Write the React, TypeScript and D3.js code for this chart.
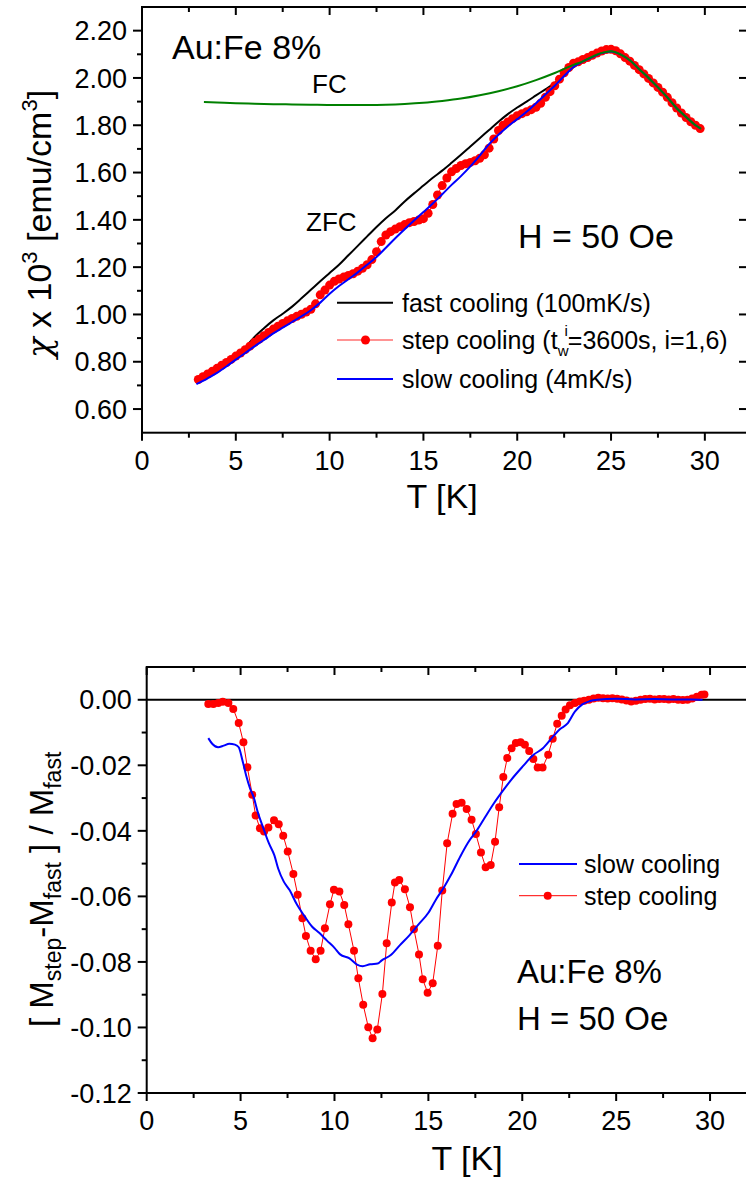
import React from "react";
import * as d3 from "d3";

const FONT = "'Liberation Sans', Arial, Helvetica, sans-serif";

// ---- top panel: chi x 10^3 vs T ----
const fastT = [2.9, 3.5, 4, 4.5, 5, 5.4, 5.6, 6, 6.5, 7, 7.5, 8, 8.5, 9, 9.5, 10, 10.5, 11, 11.5, 12, 12.5, 13, 13.5, 14, 14.5, 15, 15.5, 16, 16.5, 17, 17.5, 18, 18.5, 19, 19.5, 20, 20.5, 21, 21.5, 22, 22.5, 23, 23.5, 24, 24.5, 25, 25.5, 26, 26.5, 27, 27.5, 28, 28.5, 29, 29.5, 29.75];
const fastChi = [0.712, 0.735, 0.758, 0.785, 0.815, 0.845, 0.868, 0.905, 0.942, 0.975, 1.003, 1.033, 1.068, 1.104, 1.14, 1.175, 1.21, 1.25, 1.29, 1.33, 1.37, 1.407, 1.44, 1.478, 1.512, 1.545, 1.578, 1.608, 1.641, 1.675, 1.71, 1.745, 1.78, 1.815, 1.847, 1.875, 1.9, 1.926, 1.952, 1.978, 2.012, 2.046, 2.07, 2.09, 2.106, 2.113, 2.1, 2.075, 2.037, 2.0, 1.96, 1.918, 1.872, 1.835, 1.8, 1.787];

const slowT = [2.9, 3.5, 4, 4.5, 5, 5.5, 6, 6.5, 7, 7.5, 8, 8.5, 9, 9.5, 10, 10.5, 11, 11.5, 12, 12.5, 13, 13.5, 14, 14.5, 15, 15.5, 16, 16.5, 17, 17.5, 18, 18.5, 19, 19.5, 20, 20.5, 21, 21.5, 22, 22.5, 23, 23.5, 24, 24.5, 25, 25.5, 26, 26.5, 27, 27.5, 28, 28.5, 29, 29.5, 29.75];
const slowChi = [0.705, 0.73, 0.753, 0.78, 0.809, 0.837, 0.865, 0.892, 0.92, 0.944, 0.968, 0.992, 1.018, 1.05, 1.087, 1.12, 1.149, 1.178, 1.21, 1.243, 1.282, 1.322, 1.36, 1.397, 1.433, 1.469, 1.508, 1.548, 1.585, 1.626, 1.672, 1.72, 1.76, 1.795, 1.826, 1.857, 1.893, 1.93, 1.967, 2.008, 2.046, 2.07, 2.088, 2.105, 2.112, 2.1, 2.075, 2.037, 2.0, 1.96, 1.918, 1.872, 1.835, 1.8, 1.787];

const fcT = [3.3, 4, 5, 6, 7, 8, 9, 10, 11, 12, 13, 14, 15, 16, 17, 18, 19, 20, 21, 22, 23, 23.5, 24, 24.5, 25, 25.5, 26, 26.5, 27, 27.5, 28, 28.5, 29, 29.5, 29.8];
const fcChi = [1.898, 1.896, 1.893, 1.891, 1.889, 1.888, 1.887, 1.886, 1.886, 1.886, 1.887, 1.89, 1.895, 1.903, 1.913, 1.927, 1.944, 1.965, 1.991, 2.021, 2.055, 2.07, 2.09, 2.106, 2.113, 2.1, 2.075, 2.037, 2.0, 1.96, 1.918, 1.872, 1.835, 1.8, 1.785];

const stepT = [3, 3.25, 3.5, 3.75, 4, 4.25, 4.5, 4.75, 5, 5.25, 5.5, 5.75, 6, 6.25, 6.5, 6.75, 7, 7.25, 7.5, 7.75, 8, 8.25, 8.5, 8.75, 9, 9.25, 9.5, 9.75, 10, 10.25, 10.5, 10.75, 11, 11.25, 11.5, 11.75, 12, 12.25, 12.5, 12.75, 13, 13.25, 13.5, 13.75, 14, 14.25, 14.5, 14.75, 15, 15.25, 15.5, 15.75, 16, 16.25, 16.5, 16.75, 17, 17.25, 17.5, 17.75, 18, 18.25, 18.5, 18.75, 19, 19.25, 19.5, 19.75, 20, 20.25, 20.5, 20.75, 21, 21.25, 21.5, 21.75, 22, 22.25, 22.5, 22.75, 23, 23.25, 23.5, 23.75, 24, 24.25, 24.5, 24.75, 25, 25.25, 25.5, 25.75, 26, 26.25, 26.5, 26.75, 27, 27.25, 27.5, 27.75, 28, 28.25, 28.5, 28.75, 29, 29.25, 29.5, 29.75];
const stepChi = [0.725, 0.737, 0.748, 0.76, 0.772, 0.785, 0.797, 0.81, 0.824, 0.837, 0.851, 0.866, 0.882, 0.896, 0.91, 0.924, 0.938, 0.95, 0.962, 0.973, 0.983, 0.992, 1.001, 1.01, 1.022, 1.045, 1.083, 1.103, 1.124, 1.14, 1.15, 1.158, 1.165, 1.172, 1.183, 1.195, 1.21, 1.232, 1.265, 1.308, 1.336, 1.35, 1.361, 1.371, 1.38, 1.388, 1.393, 1.399, 1.405, 1.428, 1.465, 1.505, 1.545, 1.577, 1.603, 1.617, 1.63, 1.637, 1.643, 1.65, 1.66, 1.675, 1.703, 1.742, 1.778, 1.8, 1.814, 1.828, 1.84, 1.849, 1.857, 1.866, 1.876, 1.893, 1.918, 1.942, 1.967, 1.995, 2.022, 2.044, 2.062, 2.068, 2.078, 2.086, 2.096, 2.105, 2.114, 2.12, 2.121, 2.115, 2.102, 2.086, 2.071, 2.053, 2.035, 2.017, 1.998, 1.979, 1.96, 1.94, 1.918, 1.895, 1.873, 1.852, 1.833, 1.815, 1.8, 1.786];

// ---- bottom panel: (M_step - M_fast)/M_fast ----
const slowDiffT = [3.28, 3.5, 3.8, 4.1, 4.4, 4.7, 4.9, 5.1, 5.3, 5.5, 5.7, 5.9, 6.2, 6.5, 6.8, 7, 7.3, 7.6, 8, 8.4, 8.8, 9.2, 9.6, 10, 10.3, 10.8, 11.2, 11.5, 11.9, 12.3, 12.5, 13, 13.5, 14, 14.5, 15, 15.4, 15.8, 16.2, 16.7, 17.1, 17.6, 18, 18.5, 19, 19.4, 20, 20.6, 21.1, 21.6, 22, 22.4, 22.8, 23.2, 23.6, 24, 25, 26, 27, 28, 29, 29.6];
const slowDiff = [-0.0117, -0.0135, -0.0145, -0.014, -0.0134, -0.0137, -0.0145, -0.0185, -0.0232, -0.027, -0.0298, -0.034, -0.039, -0.0437, -0.0475, -0.0515, -0.0555, -0.058, -0.0625, -0.066, -0.0692, -0.0712, -0.0735, -0.0757, -0.0777, -0.0789, -0.0808, -0.0813, -0.0807, -0.0805, -0.0796, -0.0779, -0.0748, -0.0718, -0.0684, -0.065, -0.061, -0.0575, -0.0535, -0.0478, -0.0437, -0.0397, -0.036, -0.0315, -0.0275, -0.0245, -0.0205, -0.0168, -0.0148, -0.0115, -0.009, -0.0073, -0.0036, -0.0014, -0.0004, 0, 0.0003, 0.0001, 0.0002, 0.0001, 0.0001, 0];

const stepDiffT = [3.28, 3.55, 3.81, 4.05, 4.35, 4.61, 4.9, 5.15, 5.36, 5.62, 5.8, 6.03, 6.25, 6.48, 6.78, 7.03, 7.27, 7.51, 7.81, 8.04, 8.29, 8.48, 8.73, 9, 9.26, 9.49, 9.76, 9.97, 10.26, 10.52, 10.74, 11.04, 11.27, 11.53, 11.8, 12.03, 12.28, 12.55, 12.78, 13.05, 13.22, 13.45, 13.75, 14.02, 14.23, 14.5, 14.7, 14.96, 15.23, 15.5, 15.74, 16, 16.29, 16.5, 16.77, 17.04, 17.3, 17.53, 17.8, 18.05, 18.32, 18.55, 18.77, 18.99, 19.2, 19.43, 19.66, 19.91, 20.14, 20.37, 20.59, 20.82, 21.08, 21.38, 21.62, 21.86, 22.1, 22.31, 22.54, 22.8, 23.07, 23.3, 23.55, 23.8, 24.05, 24.3, 24.55, 24.8, 25.05, 25.3, 25.55, 25.8, 26.05, 26.3, 26.55, 26.8, 27.05, 27.3, 27.55, 27.8, 28.05, 28.3, 28.55, 28.8, 29.05, 29.3, 29.55, 29.7];
const stepDiff = [-0.0013, -0.0013, -0.001, -0.0006, -0.001, -0.0028, -0.0071, -0.013, -0.0206, -0.029, -0.0353, -0.0392, -0.0402, -0.039, -0.0368, -0.038, -0.0415, -0.0463, -0.0532, -0.0595, -0.0667, -0.0721, -0.0766, -0.0792, -0.0766, -0.0697, -0.0624, -0.058, -0.0585, -0.0626, -0.0685, -0.0766, -0.085, -0.0931, -0.0999, -0.1033, -0.1006, -0.0898, -0.0743, -0.0619, -0.0558, -0.055, -0.0578, -0.0633, -0.07, -0.0777, -0.0853, -0.0894, -0.0865, -0.0751, -0.0582, -0.0438, -0.0348, -0.0318, -0.0314, -0.0333, -0.0366, -0.041, -0.0466, -0.0511, -0.0504, -0.0433, -0.0328, -0.0236, -0.0178, -0.0148, -0.0132, -0.013, -0.0137, -0.0156, -0.0181, -0.0207, -0.0207, -0.0168, -0.0119, -0.0073, -0.0049, -0.003, -0.0017, -0.001, -0.0005, -0.0003, 0, 0.0004, 0.0006, 0.0005, 0.0004, 0.0005, 0.0003, 0.0001, -0.0002, -0.0005, -0.0003, 0, 0.0002, 0.0003, 0.0001, 0.0002, 0.0002, 0.0001, 0.0002, 0, -0.0001, 0, 0.0004, 0.0009, 0.0015, 0.0016];

// ticks
const tMajor = [0, 5, 10, 15, 20, 25, 30];
const tMinor = [2.5, 7.5, 12.5, 17.5, 22.5, 27.5];
const chiMajor = [0.6, 0.8, 1.0, 1.2, 1.4, 1.6, 1.8, 2.0, 2.2];
const chiMinor = [0.7, 0.9, 1.1, 1.3, 1.5, 1.7, 1.9, 2.1];
const diffMajor = [0, -0.02, -0.04, -0.06, -0.08, -0.1, -0.12];
const diffMinor = [-0.01, -0.03, -0.05, -0.07, -0.09, -0.11];

const RED = "#ff0000";
const BLUE = "#0000ff";
const GREEN = "#008000";

const zip = (a: number[], b: number[]) => a.map((v, i) => [v, b[i]] as [number, number]);

function Axes({ x, y, xMajor, xMinor, yMajor, yMinor, fmt }: any) {
  const [x0, x1] = x.range();
  const [y0, y1] = y.range();
  const s = { stroke: "#000", strokeWidth: 2 };
  return (
    <g fontFamily={FONT} fill="#000">
      <rect x={x0} y={y1} width={x1 - x0} height={y0 - y1} fill="none" {...s} />
      {xMajor.map((t: number) => (
        <g key={"xM" + t}>
          <line x1={x(t)} x2={x(t)} y1={y0} y2={y0 + 8} {...s} />
          <line x1={x(t)} x2={x(t)} y1={y1} y2={y1 + 8} {...s} />
          <text x={x(t)} y={y0 + 37} textAnchor="middle" fontSize={27}>{t}</text>
        </g>
      ))}
      {xMinor.map((t: number) => (
        <g key={"xm" + t}>
          <line x1={x(t)} x2={x(t)} y1={y0} y2={y0 + 5} {...s} />
          <line x1={x(t)} x2={x(t)} y1={y1} y2={y1 + 5} {...s} />
        </g>
      ))}
      {yMajor.map((v: number) => (
        <g key={"yM" + v}>
          <line x1={x0 - 9} x2={x0} y1={y(v)} y2={y(v)} {...s} />
          <line x1={x1 - 9} x2={x1} y1={y(v)} y2={y(v)} {...s} />
          <text x={x0 - 15} y={y(v)} dy="0.36em" textAnchor="end" fontSize={27}>{fmt(v)}</text>
        </g>
      ))}
      {yMinor.map((v: number) => (
        <line key={"ym" + v} x1={x0 - 5} x2={x0} y1={y(v)} y2={y(v)} {...s} />
      ))}
    </g>
  );
}

export default function App() {
  const xTop = d3.scaleLinear().domain([0, 32.3]).range([142, 748]);
  const yTop = d3.scaleLinear().domain([0.5, 2.3]).range([432.7, 7]);
  const xBot = d3.scaleLinear().domain([0, 32.5]).range([146.7, 757]);
  const yBot = d3.scaleLinear().domain([-0.12, 0.01]).range([1093, 667]);

  const lineTop = d3.line<[number, number]>().x((d) => xTop(d[0])).y((d) => yTop(d[1])).curve(d3.curveMonotoneX);
  const lineBot = d3.line<[number, number]>().x((d) => xBot(d[0])).y((d) => yBot(d[1]));
  const lineBotSmooth = d3.line<[number, number]>().x((d) => xBot(d[0])).y((d) => yBot(d[1])).curve(d3.curveMonotoneX);

  const step = zip(stepT, stepChi);
  const stepD = zip(stepDiffT, stepDiff);
  const fmt = (v: number) => v.toFixed(2);

  return (
    <svg width={746} height={1178} style={{ position: "absolute", left: 0, top: 0, background: "#fff" }} fontFamily={FONT}>
      <rect width={746} height={1178} fill="#fff" />

      {/* top panel */}
      <path d={lineTop(zip(fastT, fastChi)) || ""} fill="none" stroke="#000" strokeWidth={2} />
      <path d={lineTop(step) || ""} fill="none" stroke={RED} strokeWidth={1} />
      {step.map((d, i) => (
        <circle key={"s" + i} cx={xTop(d[0])} cy={yTop(d[1])} r={4.5} fill={RED} />
      ))}
      <path d={lineTop(zip(slowT, slowChi)) || ""} fill="none" stroke={BLUE} strokeWidth={2} />
      <path d={lineTop(zip(fcT, fcChi)) || ""} fill="none" stroke={GREEN} strokeWidth={2} />
      <Axes x={xTop} y={yTop} xMajor={tMajor} xMinor={tMinor} yMajor={chiMajor} yMinor={chiMinor} fmt={fmt} />

      <text x={172} y={59} fontSize={34}>Au:Fe 8%</text>
      <text x={312} y={93} fontSize={26}>FC</text>
      <text x={306} y={231} fontSize={26}>ZFC</text>
      <text x={518} y={248} fontSize={34}>H = 50 Oe</text>

      <g fontSize={25}>
        <line x1={337} x2={393} y1={302.7} y2={302.7} stroke="#000" strokeWidth={2} />
        <text x={402} y={302.7} dy="0.36em">fast cooling (100mK/s)</text>
        <line x1={337} x2={393} y1={340} y2={340} stroke="#ff7070" strokeWidth={1.5} />
        <circle cx={365.5} cy={340} r={4.5} fill={RED} />
        <text x={402} y={340} dy="0.36em">
          step cooling (t<tspan dy={7} fontSize={15}>w</tspan>
          <tspan dx={-4} dy={-20} fontSize={15}>i</tspan>
          <tspan dy={13}>=3600s, i=1,6)</tspan>
        </text>
        <line x1={337} x2={393} y1={379} y2={379} stroke={BLUE} strokeWidth={2} />
        <text x={402} y={379} dy="0.36em">slow cooling (4mK/s)</text>
      </g>

      <text x={442} y={508} fontSize={34} textAnchor="middle">T [K]</text>
      <text transform="translate(51,358) rotate(-90)" textAnchor="start" fontSize={34}>
        <tspan fontFamily="'DejaVu Serif', serif" fontStyle="italic">χ</tspan>
        <tspan> x 10</tspan>
        <tspan dy={-14} fontSize={22}>3</tspan>
        <tspan dy={14}> [emu/cm</tspan>
        <tspan dy={-14} fontSize={22}>3</tspan>
        <tspan dy={14}>]</tspan>
      </text>

      {/* bottom panel */}
      <line x1={xBot(0)} x2={xBot(32.5)} y1={yBot(0)} y2={yBot(0)} stroke="#000" strokeWidth={2} />
      <path d={lineBot(stepD) || ""} fill="none" stroke={RED} strokeWidth={1} />
      {stepD.map((d, i) => (
        <circle key={"d" + i} cx={xBot(d[0])} cy={yBot(d[1])} r={4} fill={RED} />
      ))}
      <path d={lineBotSmooth(zip(slowDiffT, slowDiff)) || ""} fill="none" stroke={BLUE} strokeWidth={2} />
      <Axes x={xBot} y={yBot} xMajor={tMajor} xMinor={tMinor} yMajor={diffMajor} yMinor={diffMinor} fmt={fmt} />

      <g fontSize={25}>
        <line x1={519} x2={577} y1={864} y2={864} stroke={BLUE} strokeWidth={2} />
        <text x={584} y={864} dy="0.36em">slow cooling</text>
        <line x1={519} x2={577} y1={895.7} y2={895.7} stroke={RED} strokeWidth={1} />
        <circle cx={547.7} cy={895.7} r={4} fill={RED} />
        <text x={584} y={895.7} dy="0.36em">step cooling</text>
      </g>

      <text x={517} y={983} fontSize={33}>Au:Fe 8%</text>
      <text x={517} y={1030} fontSize={33}>H = 50 Oe</text>

      <text x={467} y={1170} fontSize={34} textAnchor="middle">T [K]</text>
      <text transform="translate(53,1027) rotate(-90)" textAnchor="start" fontSize={33}>
        <tspan>[ M</tspan>
        <tspan dy={8} fontSize={23}>step</tspan>
        <tspan dy={-8}>-M</tspan>
        <tspan dy={8} fontSize={23}>fast</tspan>
        <tspan dy={-8}> ] / M</tspan>
        <tspan dy={8} fontSize={23}>fast</tspan>
      </text>
    </svg>
  );
}
